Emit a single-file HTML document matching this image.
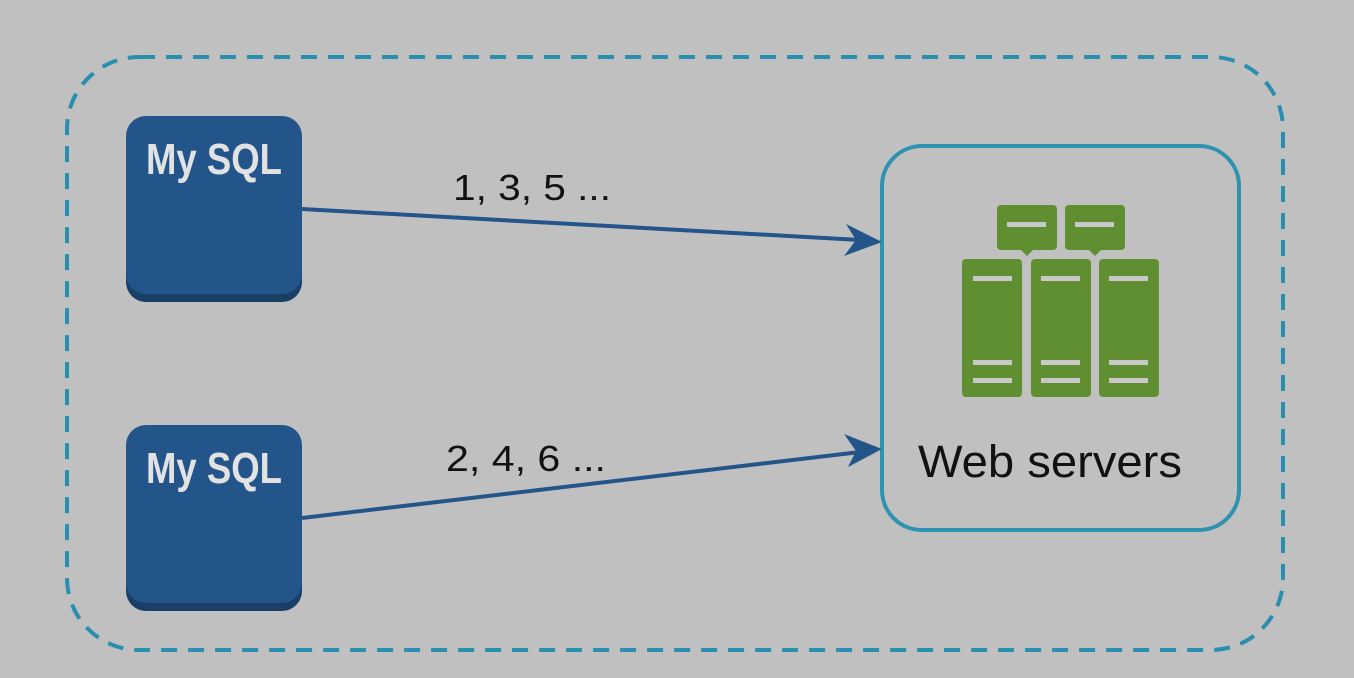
<!DOCTYPE html>
<html><head><style>
html,body{margin:0;padding:0;background:#c0c0c0;}
svg{display:block;}
</style></head><body>
<svg width="1354" height="678" viewBox="0 0 1354 678" xmlns="http://www.w3.org/2000/svg">
<rect width="1354" height="678" fill="#c0c0c0"/>
<rect x="67" y="57" width="1216" height="593" rx="72" fill="none" stroke="#2a8fae" stroke-width="4" stroke-dasharray="16 11"/>
<rect x="882" y="146" width="357" height="384" rx="40" fill="none" stroke="#2e93b0" stroke-width="4"/>
<g>
<rect x="126" y="124" width="176" height="178" rx="20" fill="#1a3f66"/>
<rect x="126" y="116" width="176" height="178" rx="20" fill="#23558a"/>
<text x="214" y="174" text-anchor="middle" font-family="Liberation Sans, sans-serif" font-weight="bold" font-size="44" fill="#e2e2e2" textLength="136" lengthAdjust="spacingAndGlyphs">My SQL</text>
</g>
<g>
<rect x="126" y="433" width="176" height="178" rx="20" fill="#1a3f66"/>
<rect x="126" y="425" width="176" height="178" rx="20" fill="#23558a"/>
<text x="214" y="483" text-anchor="middle" font-family="Liberation Sans, sans-serif" font-weight="bold" font-size="44" fill="#e2e2e2" textLength="136" lengthAdjust="spacingAndGlyphs">My SQL</text>
</g>
<line x1="302" y1="209" x2="860" y2="240" stroke="#23558a" stroke-width="4"/>
<polygon points="882,242 846,224 856,240 844,256" fill="#23558a"/>
<line x1="302" y1="518" x2="860" y2="452" stroke="#23558a" stroke-width="4"/>
<polygon points="882,449 844,434 856,451 848,467" fill="#23558a"/>
<text x="532" y="200" text-anchor="middle" font-family="Liberation Sans, sans-serif" font-size="36" fill="#111" textLength="158" lengthAdjust="spacingAndGlyphs">1, 3, 5 ...</text>
<text x="526" y="471" text-anchor="middle" font-family="Liberation Sans, sans-serif" font-size="36" fill="#111" textLength="160" lengthAdjust="spacingAndGlyphs">2, 4, 6 ...</text>
<g fill="#5f8f30">
<rect x="997" y="205" width="60" height="45" rx="4"/>
<polygon points="1021,250 1033,250 1027,256"/>
<rect x="1065" y="205" width="60" height="45" rx="4"/>
<polygon points="1089,250 1101,250 1095,256"/>
<rect x="962" y="259" width="60" height="138" rx="4"/>
<rect x="1031" y="259" width="60" height="138" rx="4"/>
<rect x="1099" y="259" width="60" height="138" rx="4"/>
</g>
<g fill="#c8c8c8">
<rect x="1007" y="222" width="39" height="5"/>
<rect x="1075" y="222" width="39" height="5"/>
<rect x="973" y="276" width="39" height="5"/>
<rect x="1041" y="276" width="39" height="5"/>
<rect x="1109" y="276" width="39" height="5"/>
<rect x="973" y="360" width="39" height="5"/>
<rect x="1041" y="360" width="39" height="5"/>
<rect x="1109" y="360" width="39" height="5"/>
<rect x="973" y="378" width="39" height="5"/>
<rect x="1041" y="378" width="39" height="5"/>
<rect x="1109" y="378" width="39" height="5"/>
</g>
<text x="1050" y="477" text-anchor="middle" font-family="Liberation Sans, sans-serif" font-size="45" fill="#111" textLength="264" lengthAdjust="spacingAndGlyphs">Web servers</text>
</svg>
</body></html>
